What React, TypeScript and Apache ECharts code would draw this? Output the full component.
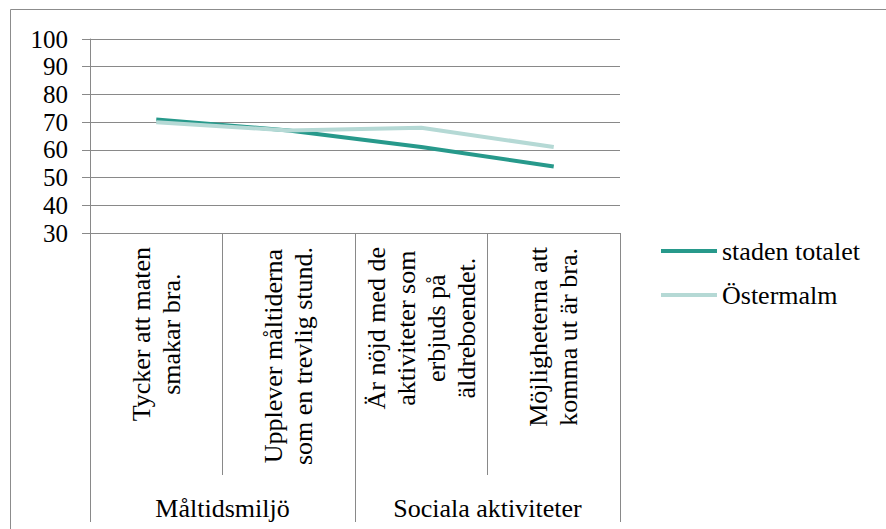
import React, { useEffect, useRef } from "react";
import * as echarts from "echarts";

const categories = [
  "Tycker att maten\nsmakar bra.",
  "Upplever måltiderna\nsom en trevlig stund.",
  "Är nöjd med de\naktiviteter som\nerbjuds på\näldreboendet.",
  "Möjligheterna att\nkomma ut är bra.",
];
const groups = ["Måltidsmiljö", "Sociala aktiviteter"];
const seriesNames = ["staden totalet", "Östermalm"];
const stadenTotalet = [71, 67, 61, 54];
const ostermalm = [70, 67, 68, 61];

const FONT = "Liberation Serif";
const GRID_COLOR = "#898989";

export default function App() {
  const ref = useRef<HTMLDivElement>(null);
  useEffect(() => {
    if (!ref.current) return;
    const chart = echarts.init(ref.current, undefined, { renderer: "svg" });
    chart.setOption({
      animation: false,
      backgroundColor: "#ffffff",
      textStyle: { fontFamily: FONT },
      graphic: [
        {
          type: "rect",
          shape: { x: 10.5, y: 9.5, width: 2000, height: 2000 },
          style: { fill: "none", stroke: "#8c8c8c", lineWidth: 1 },
          silent: true,
        },
      ],
      grid: { left: 90, right: 266, top: 39, bottom: 296, containLabel: false },
      legend: {
        orient: "vertical",
        left: 656,
        top: 231,
        itemWidth: 56,
        itemHeight: 4,
        itemGap: 14,
        icon: "rect",
        textStyle: { fontFamily: FONT, fontSize: 26, color: "#000", lineHeight: 30 },
        data: seriesNames,
      },
      xAxis: [
        {
          type: "category",
          data: categories,
          boundaryGap: true,
          position: "bottom",
          axisLine: { show: true, lineStyle: { color: GRID_COLOR, width: 1 } },
          axisTick: { show: true, length: 242, lineStyle: { color: GRID_COLOR, width: 1 } },
          axisLabel: {
            interval: 0,
            rotate: 90,
            margin: 14,
            color: "#000",
            fontFamily: FONT,
            fontSize: 26,
            formatter: (v: string) => v.split("\n").map((l) => `{c|${l}}`).join("\n"),
            rich: {
              c: { align: "center", fontFamily: FONT, fontSize: 26, lineHeight: 30, color: "#000" },
            },
          },
        },
        {
          type: "category",
          data: groups,
          boundaryGap: true,
          position: "bottom",
          offset: 0,
          axisLine: { show: false },
          axisTick: { show: true, length: 289, lineStyle: { color: GRID_COLOR, width: 1 } },
          axisLabel: {
            interval: 0,
            margin: 262,
            color: "#000",
            fontFamily: FONT,
            fontSize: 26,
          },
        },
      ],
      yAxis: {
        type: "value",
        min: 30,
        max: 100,
        interval: 10,
        axisLine: { show: true, lineStyle: { color: GRID_COLOR, width: 1 } },
        axisTick: { show: true, length: 8, lineStyle: { color: GRID_COLOR, width: 1 } },
        splitLine: { show: true, lineStyle: { color: GRID_COLOR, width: 1 } },
        axisLabel: { margin: 22, color: "#000", fontFamily: FONT, fontSize: 25 },
      },
      series: [
        {
          name: seriesNames[0],
          type: "line",
          data: stadenTotalet,
          symbol: "none",
          lineStyle: { width: 4, color: "#27998b" },
          itemStyle: { color: "#27998b" },
          xAxisIndex: 0,
        },
        {
          name: seriesNames[1],
          type: "line",
          data: ostermalm,
          symbol: "none",
          lineStyle: { width: 4, color: "#b5d9d5" },
          itemStyle: { color: "#b5d9d5" },
          xAxisIndex: 0,
        },
      ],
    });
    return () => chart.dispose();
  }, []);
  return (
    <div
      ref={ref}
      style={{ position: "absolute", left: 0, top: 0, width: 886, height: 529 }}
    />
  );
}
